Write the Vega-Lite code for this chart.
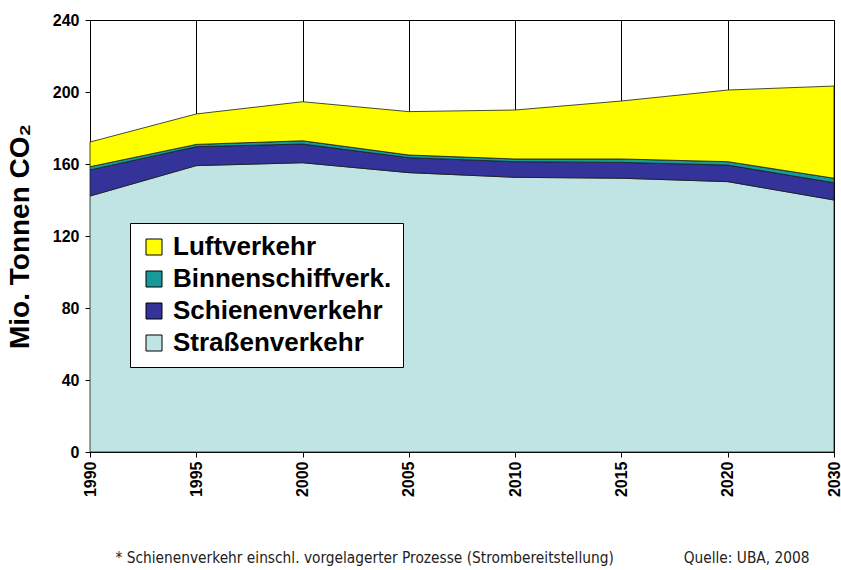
{
  "$schema": "https://vega.github.io/schema/vega-lite/v6.json",
  "width": 744,
  "height": 432,
  "autosize": "none",
  "padding": {"left": 90, "top": 20, "right": 7, "bottom": 118},
  "background": "white",
  "config": {"view": {"stroke": "black", "strokeWidth": 1}, "font": "Liberation Sans"},
  "data": {"values": [
    {"year": "1990", "sector": "Straßenverkehr", "rank": 1, "value": 142.2},
    {"year": "1990", "sector": "Schienenverkehr", "rank": 2, "value": 14.5},
    {"year": "1990", "sector": "Binnenschiffverk.", "rank": 3, "value": 1.8},
    {"year": "1990", "sector": "Luftverkehr", "rank": 4, "value": 13.7},
    {"year": "1995", "sector": "Straßenverkehr", "rank": 1, "value": 159.1},
    {"year": "1995", "sector": "Schienenverkehr", "rank": 2, "value": 10.5},
    {"year": "1995", "sector": "Binnenschiffverk.", "rank": 3, "value": 1.3},
    {"year": "1995", "sector": "Luftverkehr", "rank": 4, "value": 16.9},
    {"year": "2000", "sector": "Straßenverkehr", "rank": 1, "value": 160.7},
    {"year": "2000", "sector": "Schienenverkehr", "rank": 2, "value": 10.4},
    {"year": "2000", "sector": "Binnenschiffverk.", "rank": 3, "value": 1.8},
    {"year": "2000", "sector": "Luftverkehr", "rank": 4, "value": 21.7},
    {"year": "2005", "sector": "Straßenverkehr", "rank": 1, "value": 155.2},
    {"year": "2005", "sector": "Schienenverkehr", "rank": 2, "value": 8.3},
    {"year": "2005", "sector": "Binnenschiffverk.", "rank": 3, "value": 1.5},
    {"year": "2005", "sector": "Luftverkehr", "rank": 4, "value": 24.1},
    {"year": "2010", "sector": "Straßenverkehr", "rank": 1, "value": 152.6},
    {"year": "2010", "sector": "Schienenverkehr", "rank": 2, "value": 8.7},
    {"year": "2010", "sector": "Binnenschiffverk.", "rank": 3, "value": 1.5},
    {"year": "2010", "sector": "Luftverkehr", "rank": 4, "value": 27.2},
    {"year": "2015", "sector": "Straßenverkehr", "rank": 1, "value": 152.1},
    {"year": "2015", "sector": "Schienenverkehr", "rank": 2, "value": 8.8},
    {"year": "2015", "sector": "Binnenschiffverk.", "rank": 3, "value": 1.9},
    {"year": "2015", "sector": "Luftverkehr", "rank": 4, "value": 32.2},
    {"year": "2020", "sector": "Straßenverkehr", "rank": 1, "value": 150.2},
    {"year": "2020", "sector": "Schienenverkehr", "rank": 2, "value": 9.2},
    {"year": "2020", "sector": "Binnenschiffverk.", "rank": 3, "value": 1.9},
    {"year": "2020", "sector": "Luftverkehr", "rank": 4, "value": 39.8},
    {"year": "2030", "sector": "Straßenverkehr", "rank": 1, "value": 140.0},
    {"year": "2030", "sector": "Schienenverkehr", "rank": 2, "value": 9.6},
    {"year": "2030", "sector": "Binnenschiffverk.", "rank": 3, "value": 2.5},
    {"year": "2030", "sector": "Luftverkehr", "rank": 4, "value": 51.2}
  ]},
  "mark": {"type": "area", "stroke": "#1a1a1a", "strokeWidth": 0.8, "opacity": 1, "fillOpacity": 1},
  "encoding": {
    "x": {
      "field": "year", "type": "ordinal",
      "scale": {"type": "point", "padding": 0},
      "axis": {
        "title": "* Schienenverkehr einschl. vorgelagerter Prozesse (Strombereitstellung)\u00a0\u00a0\u00a0\u00a0\u00a0\u00a0\u00a0\u00a0\u00a0\u00a0\u00a0\u00a0\u00a0\u00a0\u00a0\u00a0Quelle: UBA, 2008",
        "labelAngle": 270,
        "labelFont": "Liberation Sans", "labelFontWeight": "bold", "labelFontSize": 16, "labelColor": "black",
        "labelPadding": 4,
        "tickColor": "black", "tickSize": 5, "domainColor": "black",
        "grid": true, "gridColor": "black", "gridWidth": 1, "gridOpacity": 1,
        "titleFont": "Liberation Sans Narrow, DejaVu Sans Condensed, Liberation Sans",
        "titleFontWeight": "normal", "titleFontSize": 15.3, "titleColor": "#222",
        "titlePadding": 54
      }
    },
    "y": {
      "field": "value", "type": "quantitative", "stack": "zero",
      "scale": {"domain": [0, 240], "nice": false},
      "axis": {
        "title": "Mio. Tonnen CO₂",
        "values": [0, 40, 80, 120, 160, 200, 240],
        "grid": false,
        "labelFont": "Liberation Sans", "labelFontWeight": "bold", "labelFontSize": 16, "labelColor": "black",
        "labelPadding": 6,
        "tickColor": "black", "tickSize": 5, "domainColor": "black",
        "titleFont": "Liberation Sans", "titleFontWeight": "bold", "titleFontSize": 28, "titleColor": "black",
        "titlePadding": 18
      }
    },
    "color": {
      "field": "sector", "type": "nominal",
      "scale": {
        "domain": ["Luftverkehr", "Binnenschiffverk.", "Schienenverkehr", "Straßenverkehr"],
        "range": ["#ffff00", "#169a9a", "#333399", "#c0e4e4"]
      },
      "legend": {
        "title": null,
        "orient": "none", "legendX": 40, "legendY": 203,
        "fillColor": "white", "strokeColor": "black",
        "padding": 11,
        "symbolType": "square", "symbolSize": 256, "symbolStrokeColor": "black", "symbolStrokeWidth": 1,
        "symbolOpacity": 1,
        "labelFont": "Liberation Sans", "labelFontWeight": "bold", "labelFontSize": 26, "labelColor": "black",
        "labelOffset": 6, "rowPadding": 6, "labelLimit": 400
      }
    },
    "order": {"field": "rank", "type": "quantitative"}
  }
}
